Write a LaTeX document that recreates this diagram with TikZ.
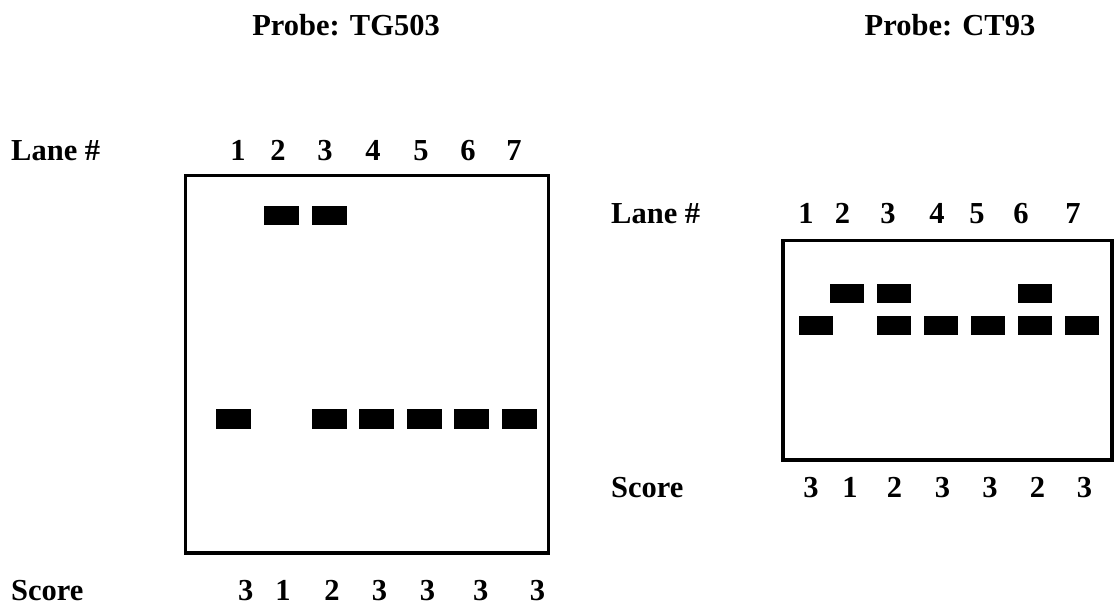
\documentclass[tikz,border=0pt]{standalone}
\usepackage{fontspec}
\setmainfont{Liberation Serif}
\tikzset{
  lbl/.style={anchor=base, inner sep=0pt, font=\bfseries\fontsize{30.5}{36}\selectfont},
  lbll/.style={lbl, anchor=base west},
  gel/.style={draw=black, line width=3.3pt, fill=white, inner sep=0pt, rectangle},
  band/.style={fill=black, inner sep=0pt, rectangle, minimum width=35pt, minimum height=19.5pt}
}
\begin{document}
\begin{tikzpicture}[x=1pt,y=-1pt]
\useasboundingbox[fill=white] (0,0) rectangle (1115,605);
% ---- left panel: TG503 ----
\node[lbl] (titleL) at (346,35) {Probe: TG503};
\node[lbll] (laneL) at (11,160) {Lane \#};
\node[gel, minimum width=362.8pt, minimum height=377.3pt] (gelL) at (366.9,364.4) {};
\foreach \i/\x in {1/238,2/278,3/325,4/373,5/421,6/468,7/514}
  \node[lbl] (lnL\i) at (\x,160) {\i};
\foreach \i/\x/\s in {1/245.8/3,2/283/1,3/332/2,4/379.5/3,5/427.5/3,6/480.8/3,7/537.5/3}
  \node[lbl] (scL\i) at (\x,600) {\s};
\node[lbll] (scoreL) at (11,600) {Score};
% bands
\node[band] (bL2u) at (281.5,215.5) {};
\node[band] (bL3u) at (329,215.5) {};
\foreach \i/\x in {1/233.5,3/329,4/376.5,5/424,6/471.5,7/519}
  \node[band] (bL\i l) at (\x,419) {};
% ---- right panel: CT93 ----
\node[lbl] (titleR) at (950,35) {Probe: CT93};
\node[lbll] (laneR) at (611,223) {Lane \#};
\node[gel, minimum width=329pt, minimum height=219.5pt] (gelR) at (947.5,350.3) {};
\foreach \i/\x in {1/806,2/842.5,3/888,4/937,5/977,6/1021,7/1073}
  \node[lbl] (lnR\i) at (\x,223) {\i};
\foreach \i/\x/\s in {1/811/3,2/850/1,3/894.5/2,4/942.5/3,5/990/3,6/1037.5/2,7/1084.5/3}
  \node[lbl] (scR\i) at (\x,497) {\s};
\node[lbll] (scoreR) at (611,497) {Score};
% bands
\foreach \i/\x in {2/847,3/894,6/1034.8}
  \node[band, minimum width=34pt] (bR\i u) at (\x,293.7) {};
\foreach \i/\x in {1/816,3/894,4/941,5/987.7,6/1034.8,7/1081.7}
  \node[band, minimum width=34pt] (bR\i l) at (\x,325.5) {};
\end{tikzpicture}
\end{document}
